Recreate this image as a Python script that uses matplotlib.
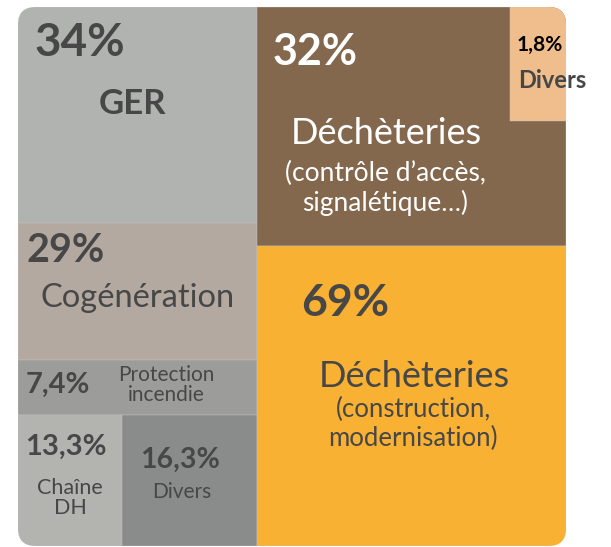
import matplotlib.pyplot as plt
from matplotlib.patches import Rectangle, FancyBboxPatch

plt.rcParams['font.family'] = ['Lato', 'DejaVu Sans']

# shares de la surface (en % de largeur / hauteur du cadre)
largeur_gauche = 43.6
hauteurs_gauche = [40.1, 25.4, 10.2, 24.3]   # GER, cogénération, protection, bas
part_chaine = 43.5                           # % de la largeur gauche
hauteur_brun = 44.3                          # déchèteries contrôle d'accès
largeur_divers_haut = 18.1                   # % de la largeur droite
hauteur_divers_haut = 21.2

# étiquettes et valeurs
pourcentages = ['34%', '29%', '7,4%', '13,3%', '16,3%', '32%', '1,8%', '69%']
libelles = ['GER', 'Cogénération', 'Protection\nincendie', 'Chaîne\nDH', 'Divers',
            'Déchèteries', 'Divers', 'Déchèteries']
sous_libelles = ['', '', '', '', '', '(contrôle d\u2019accès,\nsignalétique\u2026)',
                 '', '(construction,\nmodernisation)']
couleurs = ['#b1b3b1', '#b3a9a0', '#9c9c9b', '#b3b3af', '#8a8c8b',
            '#83684e', '#f0be8c', '#f8b133']


def cellules():
    cells = []
    y = 0
    for h in hauteurs_gauche[:3]:
        cells.append((0, y, largeur_gauche, h))
        y += h
    w_ch = largeur_gauche * part_chaine / 100
    cells.append((0, y, w_ch, hauteurs_gauche[3]))
    cells.append((w_ch, y, largeur_gauche - w_ch, hauteurs_gauche[3]))
    w_droite = 100 - largeur_gauche
    cells.append((largeur_gauche, 0, w_droite, hauteur_brun))
    w_dv = w_droite * largeur_divers_haut / 100
    cells.append((100 - w_dv, 0, w_dv, hauteur_divers_haut))
    cells.append((largeur_gauche, hauteur_brun, w_droite, 100 - hauteur_brun))
    return cells


# placement des textes dans chaque cellule (fractions de la cellule)
style_pct = [
    (0.07, 0.167, 'left', 33, '#474747'),
    (0.035, 0.197, 'left', 28.5, '#474747'),
    (0.03, 0.45, 'left', 21, '#474747'),
    (0.46, 0.245, 'center', 21, '#474747'),
    (0.43, 0.34, 'center', 20.5, '#474747'),
    (0.052, 0.19, 'left', 31, 'white'),
    (0.12, 0.33, 'left', 15, 'black'),
    (0.142, 0.19, 'left', 32, '#474747'),
]
style_lib = [
    (0.48, 0.45, 'center', 25, 'bold', '#474747'),
    (0.50, 0.55, 'center', 23.5, 'normal', '#474747'),
    (0.62, 0.45, 'center', 15, 'normal', '#474747'),
    (0.50, 0.63, 'center', 15.5, 'normal', '#474747'),
    (0.44, 0.59, 'center', 15, 'normal', '#474747'),
    (0.42, 0.53, 'center', 26, 'normal', 'white'),
    (0.14, 0.64, 'left', 17, 'bold', '#474747'),
    (0.51, 0.437, 'center', 26, 'normal', '#474747'),
]
style_sous = {5: (0.415, 0.76, 'white', 19), 7: (0.505, 0.595, '#474747', 18.5)}


def main():
    fig = plt.figure(figsize=(6.11, 5.47), dpi=100)
    ax = fig.add_axes([18 / 611, 1 - 546 / 547, 548 / 611, 539 / 547])
    ax.set_xlim(0, 100)
    ax.set_ylim(100, 0)
    ax.axis('off')

    cadre = FancyBboxPatch((0, 0), 100, 100, boxstyle='round,pad=0,rounding_size=3.2',
                           facecolor='none', edgecolor='none')
    ax.add_patch(cadre)

    cells = cellules()
    for (x, y, w, h), c in zip(cells, couleurs):
        r = Rectangle((x, y), w, h, facecolor=c, edgecolor='#c4c4c4', linewidth=0.3)
        ax.add_patch(r)
        r.set_clip_path(cadre)

    for i, (x, y, w, h) in enumerate(cells):
        fx, fy, ha, fs, col = style_pct[i]
        ax.text(x + fx * w, y + fy * h, pourcentages[i], ha=ha, va='center',
                fontsize=fs, fontweight='bold', color=col, clip_on=False)
        fx, fy, ha, fs, fw, col = style_lib[i]
        ax.text(x + fx * w, y + fy * h, libelles[i], ha=ha, va='center',
                fontsize=fs, fontweight=fw, color=col, linespacing=1.0, clip_on=False)
        if i in style_sous:
            fx, fy, col, fs = style_sous[i]
            ax.text(x + fx * w, y + fy * h, sous_libelles[i], ha='center', va='center',
                    fontsize=fs, color=col, linespacing=1.2)

    fig.savefig('out.png', dpi=100)


if __name__ == '__main__':
    main()
